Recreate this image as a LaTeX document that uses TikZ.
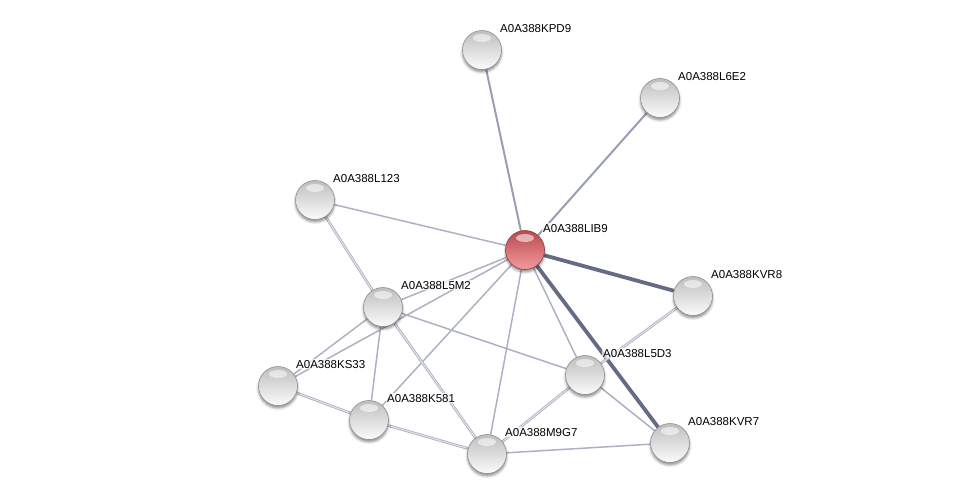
\documentclass[tikz,border=0pt]{standalone}
\usepackage{fontspec}
\setmainfont{Liberation Sans}
\usetikzlibrary{shadows.blur,backgrounds}
\definecolor{edgelight}{HTML}{AEB1C4}
\definecolor{edgemid}{HTML}{9A9EB5}
\definecolor{edgedark}{HTML}{666B85}
\definecolor{balltop}{HTML}{BEBEBE}
\definecolor{ballmid}{HTML}{DDDDDD}
\definecolor{ballbot}{HTML}{FBFBFB}
\definecolor{ballrim}{HTML}{8E8E8E}
\definecolor{redtop}{HTML}{B8494F}
\definecolor{redmid}{HTML}{D9686D}
\definecolor{redbot}{HTML}{F49A9D}
\definecolor{redrim}{HTML}{8C3A3E}

\tikzset{
  prot/.style={circle, minimum size=39pt, inner sep=0pt, draw=ballrim, line width=.6pt,
    top color=balltop, middle color=ballmid, bottom color=ballbot,
    blur shadow={shadow xshift=0pt, shadow yshift=-2.5pt, shadow blur radius=2.5pt, shadow opacity=45},
    path picture={\fill[white, opacity=.55] ([yshift=12pt]path picture bounding box.center) ellipse (9pt and 4pt);}},
  query/.style={prot, draw=redrim, top color=redtop, middle color=redmid, bottom color=redbot},
  plabel/.style={font=\fontsize{11.5}{13}\selectfont, anchor=base west, inner sep=1pt,
    fill=white, fill opacity=.7, text opacity=1},
  lnkweak/.style={draw=edgelight, line width=1.5pt},
  lnkmid/.style={draw=edgemid, line width=2pt},
  lnkdouble/.style={draw=edgelight, line width=.9pt, double=white!70!edgelight, double distance=.9pt},
  lnkstrong/.style={draw=edgedark, line width=3.8pt}
}

\begin{document}
\begin{tikzpicture}[x=1pt, y=-1pt]
  \useasboundingbox (0,0) rectangle (975,499);

  % proteins
  \node[prot]  (kpd9) at (482,50)  {};
  \node[prot]  (l6e2) at (660,98)  {};
  \node[prot]  (l123) at (315,200) {};
  \node[query] (lib9) at (525,250) {};
  \node[prot]  (kvr8) at (693,296) {};
  \node[prot]  (l5m2) at (383,307) {};
  \node[prot]  (l5d3) at (585,375) {};
  \node[prot]  (ks33) at (278,386) {};
  \node[prot]  (k581) at (369,420) {};
  \node[prot]  (m9g7) at (487,454) {};
  \node[prot]  (kvr7) at (670,443) {};

  % labels
  \foreach \n/\t in {kpd9/A0A388KPD9, l6e2/A0A388L6E2, l123/A0A388L123, lib9/A0A388LIB9,
                     kvr8/A0A388KVR8, l5m2/A0A388L5M2, l5d3/A0A388L5D3, ks33/A0A388KS33,
                     k581/A0A388K581, m9g7/A0A388M9G7, kvr7/A0A388KVR7}
    \node[plabel] (\n-lab) at ([shift={(17pt,17.7pt)}]\n.center) {\t};

  % interactions
  \begin{scope}[on background layer]
    \draw[lnkmid]    (lib9) -- (kpd9);
    \draw[lnkmid]    (lib9) -- (l6e2);
    \draw[lnkweak]   (lib9) -- (l123);
    \draw[lnkstrong] (lib9) -- (kvr8);
    \draw[lnkstrong] (lib9) -- (kvr7);
    \draw[lnkweak]   (lib9) -- (l5m2);
    \draw[lnkweak]   (lib9) -- (ks33);
    \draw[lnkweak]   (lib9) -- (k581);
    \draw[lnkweak]   (lib9) -- (m9g7);
    \draw[lnkweak]   (lib9) -- (l5d3);
    \draw[lnkdouble] (l123) -- (l5m2);
    \draw[lnkweak]   (l5m2) -- (ks33);
    \draw[lnkweak]   (l5m2) -- (k581);
    \draw[lnkdouble] (l5m2) -- (m9g7);
    \draw[lnkweak]   (l5m2) -- (l5d3);
    \draw[lnkdouble] (ks33) -- (k581);
    \draw[lnkdouble] (k581) -- (m9g7);
    \draw[lnkdouble] (m9g7) -- (l5d3);
    \draw[lnkweak]   (m9g7) -- (kvr7);
    \draw[lnkweak]   (l5d3) -- (kvr7);
    \draw[lnkdouble] (l5d3) -- (kvr8);
  \end{scope}
\end{tikzpicture}
\end{document}
